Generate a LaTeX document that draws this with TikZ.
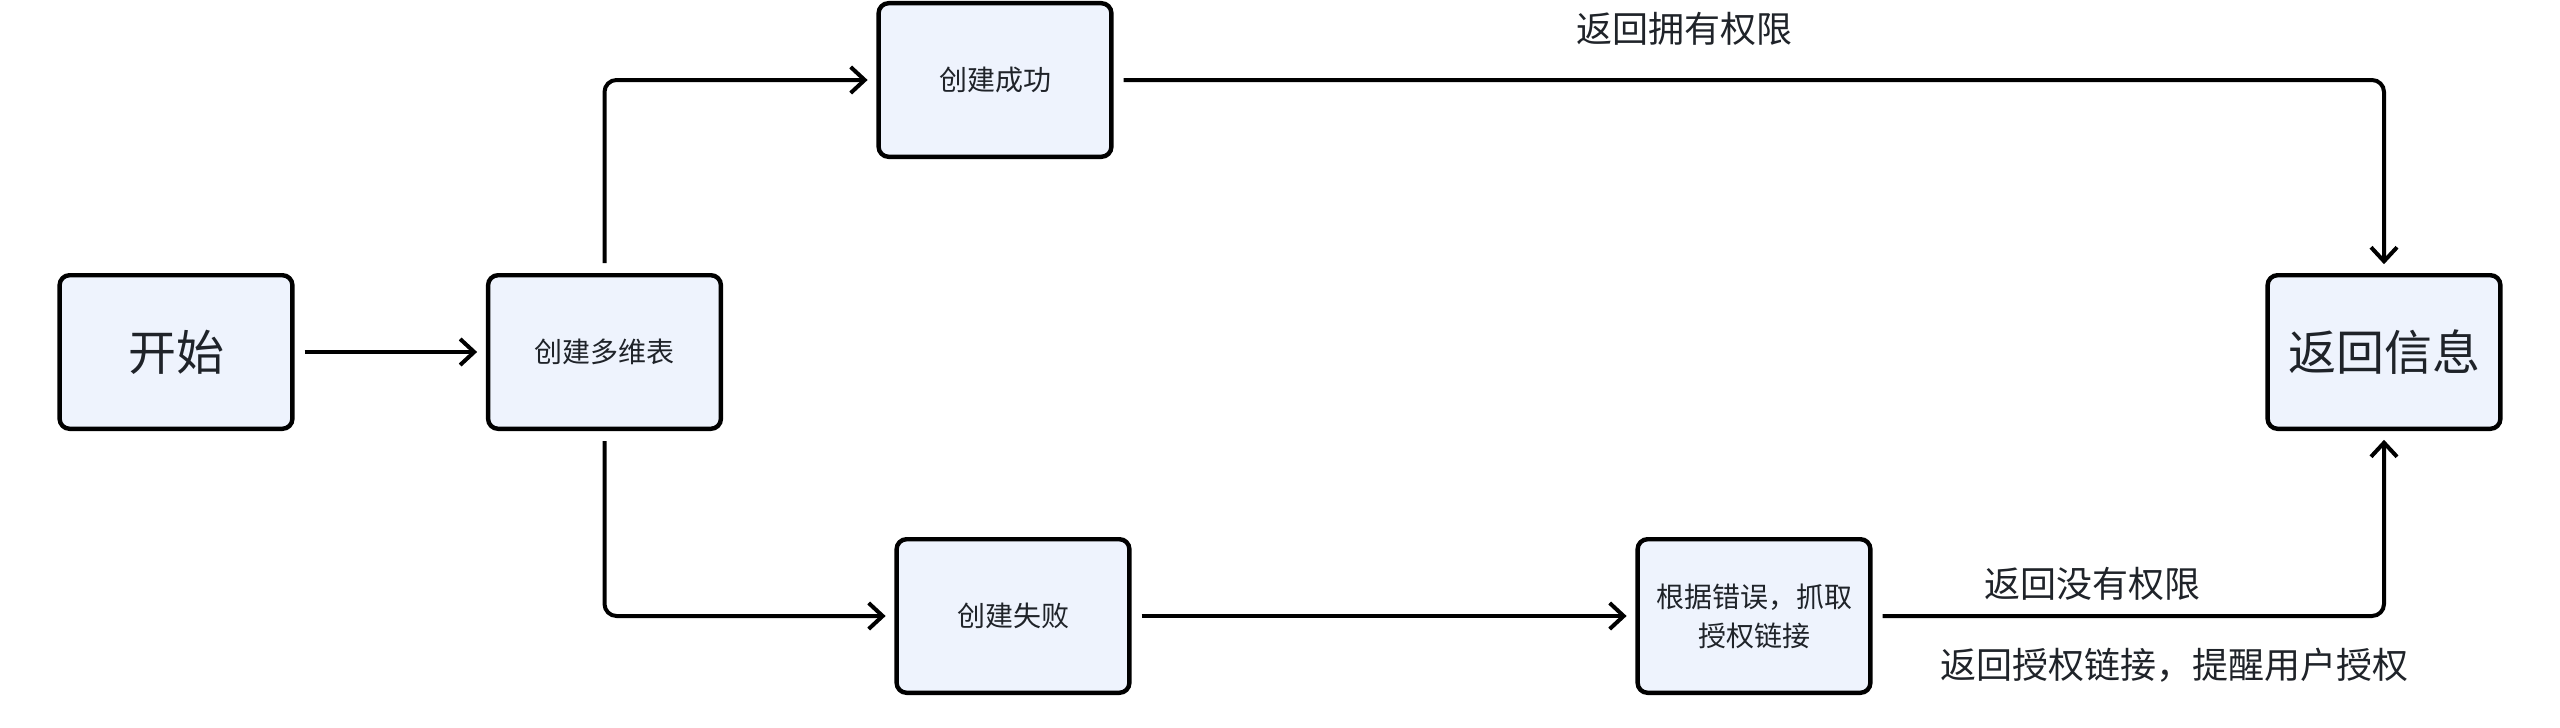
\documentclass[tikz,border=0pt]{standalone}
\usepackage{fontspec}
\newfontfamily\cjk{Noto Sans CJK SC}
\usetikzlibrary{arrows.meta}
\definecolor{boxfill}{HTML}{EEF3FD}
\definecolor{txt}{HTML}{1F2329}
\tikzset{
  stepbox/.style={draw=black, line width=1.1pt, fill=boxfill, rounded corners=2.5pt,
    minimum width=58.2pt, minimum height=38.4pt, inner sep=0pt, align=center,
    text=txt, font=\cjk\fontsize{7}{9.75}\selectfont},
  bigbox/.style={stepbox, font=\cjk\fontsize{12}{14}\selectfont},
  lbl/.style={text=txt, font=\cjk\fontsize{9}{10}\selectfont, inner sep=0pt},
  conn/.style={draw=black, line width=1pt, rounded corners=3pt,
    -{Straight Barb[length=3.5pt, width=6.5pt, line width=1pt]},
    shorten <=2.5pt, shorten >=2.2pt}
}
\begin{document}
\begin{tikzpicture}[x=0.25pt, y=-0.25pt]
\useasboundingbox (0,0) rectangle (2560,728);
\node[bigbox]  (start)   at (176,352)  {开始};
\node[stepbox] (create)  at (604.5,352) {创建多维表};
\node[stepbox] (success) at (995,80)   {创建成功};
\node[stepbox] (fail)    at (1013,616) {创建失败};
\node[stepbox] (err)     at (1754,616) {根据错误，抓取\\授权链接};
\node[bigbox]  (ret)     at (2384,352) {返回信息};
\node[lbl] (l1) at (1684,29)  {返回拥有权限};
\node[lbl] (l2) at (2092,584) {返回没有权限};
\node[lbl] (l3) at (2174,665) {返回授权链接，提醒用户授权};
\draw[conn] (start) -- (create);
\draw[conn] (create.north) |- (success.west);
\draw[conn] (create.south) |- (fail.west);
\draw[conn] (success.east) -| (ret.north);
\draw[conn] (fail) -- (err);
\draw[conn] (err.east) -| (ret.south);
\end{tikzpicture}
\end{document}
